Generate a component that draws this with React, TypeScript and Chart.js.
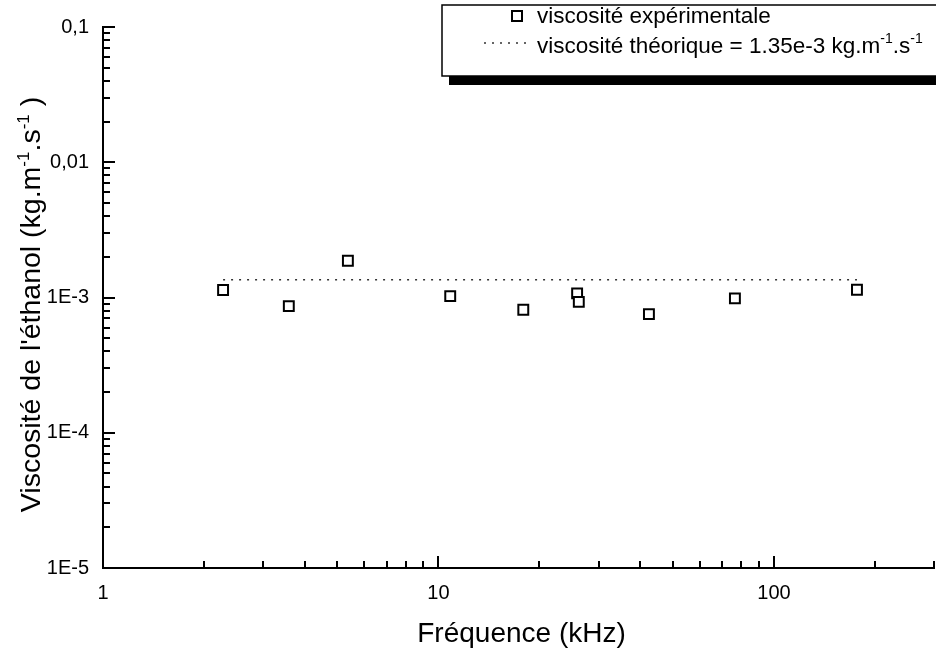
import React, { useEffect, useRef } from 'react';
import { Chart, registerables } from 'chart.js';

Chart.register(...registerables);

// ---- data ----
const FREQ_KHZ = [2.28, 3.58, 5.37, 10.84, 17.9, 25.9, 26.2, 42.4, 76.5, 176.8];
const VISCOSITY = [1.135e-3, 8.64e-4, 1.87e-3, 1.024e-3, 8.11e-4, 1.072e-3, 9.29e-4, 7.54e-4, 9.85e-4, 1.14e-3];
const THEORY_X = [2.28, 176.8];
const THEORY_VALUE = 1.35e-3;

// ---- axis ticks ----
const X_TICKS = [1, 2, 3, 4, 5, 6, 7, 8, 9, 10, 20, 30, 40, 50, 60, 70, 80, 90, 100, 200, 300];
const X_MAJOR = [1, 10, 100];
const X_MAJOR_LABELS = ['1', '10', '100'];
const Y_TICKS = [
  1e-5, 2e-5, 3e-5, 4e-5, 5e-5, 6e-5, 7e-5, 8e-5, 9e-5,
  1e-4, 2e-4, 3e-4, 4e-4, 5e-4, 6e-4, 7e-4, 8e-4, 9e-4,
  1e-3, 2e-3, 3e-3, 4e-3, 5e-3, 6e-3, 7e-3, 8e-3, 9e-3,
  1e-2, 2e-2, 3e-2, 4e-2, 5e-2, 6e-2, 7e-2, 8e-2, 9e-2,
  1e-1,
];
const Y_MAJOR = [1e-5, 1e-4, 1e-3, 1e-2, 1e-1];
const Y_MAJOR_LABELS = ['1E-5', '1E-4', '1E-3', '0,01', '0,1'];

const X_TITLE = 'Fréquence (kHz)';
const Y_TITLE_PARTS = [
  { t: "Viscosité de l'éthanol (kg.m" },
  { t: '-1', sup: true },
  { t: '.s' },
  { t: '-1', sup: true },
  { t: ' )' },
];
const LEGEND_EXP = 'viscosité expérimentale';
const LEGEND_THEO_PARTS = [
  { t: 'viscosité théorique = 1.35e-3 kg.m' },
  { t: '-1', sup: true },
  { t: '.s' },
  { t: '-1', sup: true },
];

const FONT = 'Arial, "Liberation Sans", sans-serif';

function sameLog(a: number, b: number) {
  return Math.abs(Math.log10(a) - Math.log10(b)) < 1e-6;
}
function majorIndex(v: number, majors: number[]) {
  return majors.findIndex((m) => sameLog(m, v));
}

type Part = { t: string; sup?: boolean };

function richWidth(ctx: CanvasRenderingContext2D, parts: Part[], size: number, supSize: number) {
  let w = 0;
  for (const p of parts) {
    ctx.font = `${p.sup ? supSize : size}px ${FONT}`;
    w += ctx.measureText(p.t).width;
  }
  return w;
}
function drawRich(
  ctx: CanvasRenderingContext2D,
  parts: Part[],
  x: number,
  y: number,
  size: number,
  supSize: number,
  rise: number,
) {
  let cx = x;
  ctx.textAlign = 'left';
  ctx.textBaseline = 'alphabetic';
  for (const p of parts) {
    ctx.font = `${p.sup ? supSize : size}px ${FONT}`;
    ctx.fillText(p.t, cx, p.sup ? y - rise : y);
    cx += ctx.measureText(p.t).width;
  }
}

const decorPlugin = {
  id: 'decor',
  afterDraw(chart: any) {
    const ctx: CanvasRenderingContext2D = chart.ctx;
    const xs = chart.scales.x;
    const ys = chart.scales.y;
    const { left, right, top, bottom } = chart.chartArea;
    ctx.save();
    // inward tick marks
    ctx.strokeStyle = '#000';
    ctx.lineWidth = 2;
    ctx.setLineDash([]);
    ctx.beginPath();
    for (const v of X_TICKS) {
      const px = Math.round(xs.getPixelForValue(v));
      const len = majorIndex(v, X_MAJOR) >= 0 ? 12 : 7;
      ctx.moveTo(px, bottom);
      ctx.lineTo(px, bottom - len);
    }
    for (const v of Y_TICKS) {
      const py = Math.round(ys.getPixelForValue(v));
      const len = majorIndex(v, Y_MAJOR) >= 0 ? 12 : 7;
      ctx.moveTo(left, py);
      ctx.lineTo(left + len, py);
    }
    ctx.stroke();

    ctx.fillStyle = '#000';
    // x title
    ctx.font = `28px ${FONT}`;
    ctx.textAlign = 'center';
    ctx.textBaseline = 'alphabetic';
    ctx.fillText(X_TITLE, (left + right) / 2 + 3, 642);

    // y title (rotated)
    const ySize = 28.5;
    const ySup = 17;
    const yw = richWidth(ctx, Y_TITLE_PARTS, ySize, ySup);
    ctx.save();
    ctx.translate(40, (top + bottom) / 2 + 7);
    ctx.rotate(-Math.PI / 2);
    drawRich(ctx, Y_TITLE_PARTS, -yw / 2, 0, ySize, ySup, 11);
    ctx.restore();

    // legend box
    ctx.fillStyle = '#000';
    ctx.fillRect(449, 76, 600, 9);
    ctx.fillStyle = '#fff';
    ctx.fillRect(442, 5, 600, 71);
    ctx.strokeStyle = '#000';
    ctx.lineWidth = 1.5;
    ctx.strokeRect(442, 5, 600, 71);

    // legend entry 1
    ctx.lineWidth = 2;
    ctx.strokeRect(512, 11, 10, 10);
    ctx.fillStyle = '#000';
    ctx.font = `22.5px ${FONT}`;
    ctx.textAlign = 'left';
    ctx.textBaseline = 'middle';
    ctx.fillText(LEGEND_EXP, 537, 17);

    // legend entry 2
    ctx.strokeStyle = '#333';
    ctx.lineWidth = 1.5;
    ctx.setLineDash([2, 6]);
    ctx.beginPath();
    ctx.moveTo(484, 43);
    ctx.lineTo(530, 43);
    ctx.stroke();
    ctx.setLineDash([]);
    ctx.fillStyle = '#000';
    drawRich(ctx, LEGEND_THEO_PARTS, 537, 53, 22.5, 14, 10);
    ctx.restore();
  },
};

export default function App() {
  const ref = useRef<HTMLCanvasElement | null>(null);
  useEffect(() => {
    if (!ref.current) return;
    const chart = new Chart(ref.current, {
      type: 'scatter',
      data: {
        datasets: [
          {
            label: LEGEND_EXP,
            data: FREQ_KHZ.map((x, i) => ({ x, y: VISCOSITY[i] })),
            pointStyle: 'rect',
            pointRadius: 7,
            pointHoverRadius: 7,
            pointBorderWidth: 2,
            pointBorderColor: '#000',
            pointBackgroundColor: '#fff',
            showLine: false,
            order: 0,
          },
          {
            label: 'viscosité théorique',
            data: THEORY_X.map((x) => ({ x, y: THEORY_VALUE })),
            showLine: true,
            borderColor: '#333',
            borderWidth: 1.5,
            borderDash: [2, 6],
            pointRadius: 0,
            pointHoverRadius: 0,
            fill: false,
            order: 1,
          },
        ],
      },
      options: {
        responsive: false,
        animation: false,
        events: [],
        layout: { autoPadding: false, padding: { left: 0, top: 27, right: 2, bottom: 0 } },
        plugins: { legend: { display: false }, tooltip: { enabled: false } },
        scales: {
          x: {
            type: 'logarithmic',
            position: 'bottom',
            min: 1,
            max: 300,
            afterFit: (s: any) => {
              s.height = 82;
              s.paddingLeft = 0;
              s.paddingRight = 0;
            },
            afterBuildTicks: (s: any) => {
              s.ticks = X_TICKS.map((v) => ({ value: v, major: majorIndex(v, X_MAJOR) >= 0 }));
            },
            ticks: {
              autoSkip: false,
              maxRotation: 0,
              padding: 13,
              color: '#000',
              font: { family: FONT, size: 20 },
              callback: (v: any) => {
                const i = majorIndex(Number(v), X_MAJOR);
                return i >= 0 ? X_MAJOR_LABELS[i] : '';
              },
            },
            grid: { display: false, drawTicks: false },
            border: { display: true, color: '#000', width: 2 },
          },
          y: {
            type: 'logarithmic',
            position: 'left',
            min: 1e-5,
            max: 1e-1,
            afterFit: (s: any) => {
              s.width = 103;
            },
            afterBuildTicks: (s: any) => {
              s.ticks = Y_TICKS.map((v) => ({ value: v, major: majorIndex(v, Y_MAJOR) >= 0 }));
            },
            ticks: {
              autoSkip: false,
              padding: 14,
              color: '#000',
              font: { family: FONT, size: 20 },
              callback: (v: any) => {
                const i = majorIndex(Number(v), Y_MAJOR);
                return i >= 0 ? Y_MAJOR_LABELS[i] : '';
              },
            },
            grid: { display: false, drawTicks: false },
            border: { display: true, color: '#000', width: 2 },
          },
        },
      },
      plugins: [decorPlugin],
    } as any);
    return () => chart.destroy();
  }, []);
  return (
    <div style={{ position: 'fixed', left: 0, top: 0, width: 936, height: 650, background: '#fff' }}>
      <canvas ref={ref} width={936} height={650} style={{ display: 'block' }} />
    </div>
  );
}
